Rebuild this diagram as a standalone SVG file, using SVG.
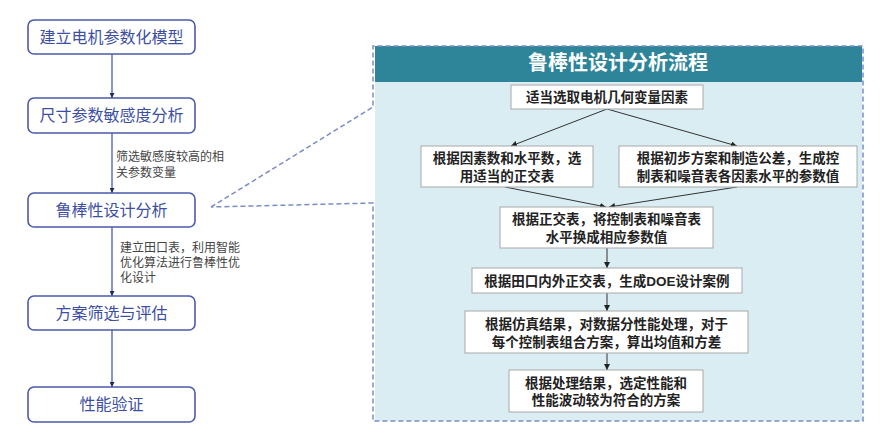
<svg xmlns="http://www.w3.org/2000/svg" width="883" height="434" viewBox="0 0 883 434">
<defs>
<marker id="ah" viewBox="0 0 10 10" refX="10" refY="5" markerWidth="5" markerHeight="5" orient="auto" markerUnits="userSpaceOnUse"><path d="M0,0 L10,5 L0,10 z" fill="#1f2a5e"/></marker>
<marker id="ah2" viewBox="0 0 10 10" refX="10" refY="5" markerWidth="6" markerHeight="6" orient="auto" markerUnits="userSpaceOnUse"><path d="M0,0 L10,5 L0,10 z" fill="#222"/></marker>
</defs>
<style>
.lb{fill:#fff;stroke:#4b5aab;stroke-width:1.6}
.lt{font-family:"Liberation Sans","Noto Sans CJK SC",sans-serif;font-size:16px;fill:#3d4fa3;text-anchor:middle}
.an{font-family:"Liberation Sans","Noto Sans CJK SC",sans-serif;font-size:12px;fill:#444}
.lc{stroke:#4b5aab;stroke-width:1.3;fill:none;marker-end:url(#ah)}
.ib{fill:#fff;stroke:#a8a8a8;stroke-width:1}
.it{font-family:"Liberation Sans","Noto Sans CJK SC",sans-serif;font-size:13.5px;font-weight:bold;fill:#222;text-anchor:middle}
.ic{stroke:#333;stroke-width:1;fill:none;marker-end:url(#ah2)}
.dash{stroke:#7b8cc8;stroke-width:1.5;stroke-dasharray:5 3;fill:none}
.hd{font-family:"Liberation Sans","Noto Sans CJK SC",sans-serif;font-size:20px;font-weight:bold;fill:#fff;text-anchor:middle}
</style>
<rect width="883" height="434" fill="#fff"/>
<g id="panel">
<rect x="375" y="46" width="487" height="375" fill="#daedf3"/>
<rect x="375" y="46" width="487" height="36" fill="#2e8499"/>
<text class="hd" x="618" y="70">鲁棒性设计分析流程</text>
</g>
<g id="connectors">
<path class="dash" d="M211,207 L373,107 L373,46 L863,46 L863,421 L373,421 L373,203 L211,207"/>
<line class="lc" x1="112" y1="54" x2="112" y2="98"/>
<line class="lc" x1="112" y1="133" x2="112" y2="193"/>
<line class="lc" x1="112" y1="227" x2="112" y2="296"/>
<line class="lc" x1="112" y1="330" x2="112" y2="387"/>
<line class="ic" x1="607" y1="109" x2="511" y2="146"/>
<line class="ic" x1="607" y1="109" x2="737" y2="146"/>
<line class="ic" x1="505" y1="187" x2="606" y2="207"/>
<line class="ic" x1="737" y1="187" x2="609" y2="207"/>
<line class="ic" x1="607" y1="248" x2="607" y2="268"/>
<line class="ic" x1="607" y1="293" x2="607" y2="311"/>
<line class="ic" x1="607" y1="353" x2="607" y2="370"/>
</g>
<g id="n1"><rect class="lb" x="28" y="20" width="167" height="34" rx="6"/><text class="lt" x="111.5" y="42.5">建立电机参数化模型</text></g>
<g id="n2"><rect class="lb" x="28" y="98" width="167" height="35" rx="6"/><text class="lt" x="111.5" y="121">尺寸参数敏感度分析</text></g>
<g id="n3"><rect class="lb" x="28" y="193" width="167" height="34" rx="6"/><text class="lt" x="111.5" y="215.5">鲁棒性设计分析</text></g>
<g id="n4"><rect class="lb" x="28" y="296" width="167" height="34" rx="6"/><text class="lt" x="111.5" y="318.5">方案筛选与评估</text></g>
<g id="n5"><rect class="lb" x="28" y="387" width="167" height="35" rx="6"/><text class="lt" x="111.5" y="410">性能验证</text></g>
<g id="lab1"><text class="an" x="116" y="161">筛选敏感度较高的相</text><text class="an" x="116" y="177">关参数变量</text></g>
<g id="lab2"><text class="an" x="120" y="252">建立田口表，利用智能</text><text class="an" x="120" y="267">优化算法进行鲁棒性优</text><text class="an" x="120" y="282">化设计</text></g>
<g id="s1"><rect class="ib" x="511" y="85" width="192" height="24"/><text class="it" x="607" y="102">适当选取电机几何变量因素</text></g>
<g id="s2"><rect class="ib" x="421" y="146" width="172" height="41"/><text class="it" x="507" y="163">根据因素数和水平数，选</text><text class="it" x="507" y="181">用适当的正交表</text></g>
<g id="s3"><rect class="ib" x="619" y="146" width="238" height="41"/><text class="it" x="738" y="163">根据初步方案和制造公差，生成控</text><text class="it" x="738" y="181">制表和噪音表各因素水平的参数值</text></g>
<g id="s4"><rect class="ib" x="500" y="207" width="213" height="41"/><text class="it" x="606.5" y="224">根据正交表，将控制表和噪音表</text><text class="it" x="606.5" y="242">水平换成相应参数值</text></g>
<g id="s5"><rect class="ib" x="472" y="268" width="270" height="25"/><text class="it" x="607" y="285.5">根据田口内外正交表，生成DOE设计案例</text></g>
<g id="s6"><rect class="ib" x="465" y="311" width="283" height="42"/><text class="it" x="606.5" y="329">根据仿真结果，对数据分性能处理，对于</text><text class="it" x="606.5" y="347">每个控制表组合方案，算出均值和方差</text></g>
<g id="s7"><rect class="ib" x="509" y="370" width="194" height="42"/><text class="it" x="606" y="388">根据处理结果，选定性能和</text><text class="it" x="606" y="405">性能波动较为符合的方案</text></g>
</svg>
